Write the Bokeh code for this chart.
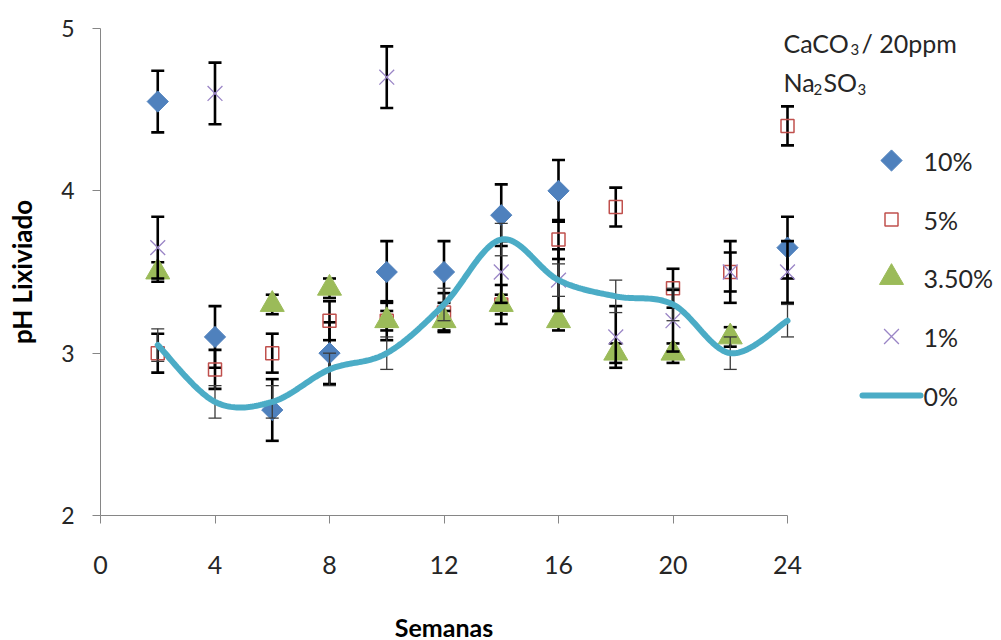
import numpy as np
from bokeh.plotting import figure
from bokeh.models import Label, FixedTicker, ColumnDataSource
from bokeh.core.properties import value
from bokeh.embed import file_html
from bokeh.resources import INLINE

# Weeks of leaching and pH of the leachate per Na2SO3 dose (NaN = not measured)
weeks = [2, 4, 6, 8, 10, 12, 14, 16, 18, 20, 22, 24]

ph_10 = [4.55, 3.10, 2.65, 3.00, 3.50, 3.50, 3.85, 4.00, np.nan, np.nan, np.nan, 3.65]
ph_5 = [3.00, 2.90, 3.00, 3.20, 3.20, 3.25, 3.30, 3.70, 3.90, 3.40, 3.50, 4.40]
ph_35 = [3.50, np.nan, 3.30, 3.40, 3.20, 3.20, 3.30, 3.20, 3.00, 3.00, 3.10, np.nan]
ph_1 = [3.65, 4.60, np.nan, np.nan, 4.70, np.nan, 3.50, 3.45, 3.10, 3.20, 3.50, 3.50]
ph_0 = [3.05, 2.70, 2.70, 2.90, 3.00, 3.30, 3.70, 3.45, 3.35, 3.30, 3.00, 3.20]

# Standard deviation of each series
sd_10 = 0.19
sd_5 = 0.12
sd_35 = 0.06
sd_1 = 0.19
sd_0 = 0.10

series_labels = ["10%", "5%", "3.50%", "1%", "0%"]
x_ticks = [0, 4, 8, 12, 16, 20, 24]
y_ticks = [2, 3, 4, 5]

FONT = "Lato"
TEXT = "#262626"

# Canvas geometry (pixels): the axes span x 100..787 and y 28..515.
# The plotting area covers the whole canvas; the axes are pinned at
# week 0 / pH 2 so the key, the note and the axis titles live inside it.
W, H = 1001, 640
LEFT, AX_RIGHT, BOTTOM, AX_TOP = 100, 787, 515, 28
X_PER_PX = 24 / (AX_RIGHT - LEFT)
Y_PER_PX = 3 / (BOTTOM - AX_TOP)


def px_x(px):
    return (px - LEFT) * X_PER_PX


def px_y(py):
    return 2 + (BOTTOM - py) * Y_PER_PX


def smooth_curve(xs, ys, n=30):
    """Cubic Bezier through every point (Catmull-Rom tangents)."""
    x = np.asarray(xs, float)
    y = np.asarray(ys, float)
    px = np.concatenate([[x[0]], x, [x[-1]]])
    py = np.concatenate([[y[0]], y, [y[-1]]])
    t = np.linspace(0, 1, n)
    out_x, out_y = [], []
    for i in range(len(x) - 1):
        p0 = np.array([px[i], py[i]])
        p1 = np.array([px[i + 1], py[i + 1]])
        p2 = np.array([px[i + 2], py[i + 2]])
        p3 = np.array([px[i + 3], py[i + 3]])
        c1 = p1 + (p2 - p0) / 6.0
        c2 = p2 - (p3 - p1) / 6.0
        b = (((1 - t) ** 3)[:, None] * p1 + (3 * (1 - t) ** 2 * t)[:, None] * c1
             + (3 * (1 - t) * t ** 2)[:, None] * c2 + (t ** 3)[:, None] * p2)
        if i > 0:
            b = b[1:]
        out_x.extend(b[:, 0])
        out_y.extend(b[:, 1])
    return out_x, out_y


p = figure(width=W, height=H, output_backend="svg", toolbar_location=None,
           x_range=(px_x(0), px_x(W)), y_range=(px_y(H), px_y(0)),
           min_border=0)
p.background_fill_color = "white"
p.border_fill_color = "white"
p.outline_line_color = None
p.xgrid.grid_line_color = None
p.ygrid.grid_line_color = None

for ax in (p.xaxis[0], p.yaxis[0]):
    ax.axis_line_color = "#868686"
    ax.major_tick_line_color = "#868686"
    ax.minor_tick_line_color = None
    ax.major_tick_in = 0
    ax.major_tick_out = 8
    ax.major_label_text_font = FONT
    ax.major_label_text_color = TEXT

p.xaxis.fixed_location = 2
p.yaxis.fixed_location = 0
p.xaxis.bounds = (0, 24)
p.yaxis.bounds = (2, 5)
p.xaxis.ticker = FixedTicker(ticks=x_ticks)
p.yaxis.ticker = FixedTicker(ticks=y_ticks)
p.xaxis.major_label_text_font_size = "25px"
p.yaxis.major_label_text_font_size = "23px"
p.xaxis.major_label_standoff = 32
p.yaxis.major_label_standoff = 18

# Axis titles
p.add_layout(Label(x=px_x((LEFT + AX_RIGHT) / 2), y=px_y(626), text="Semanas",
                   text_font=FONT, text_font_size="25px", text_font_style="bold",
                   text_color="black", text_align="center", text_baseline="middle"))
p.add_layout(Label(x=px_x(21), y=px_y((AX_TOP + BOTTOM) / 2), text="pH Lixiviado",
                   angle=np.pi / 2, text_font=FONT, text_font_size="26px",
                   text_font_style="bold", text_color="black",
                   text_align="center", text_baseline="middle"))


def error_bars(xs, ys, sd, width, color):
    x = np.asarray(xs, float)
    y = np.asarray(ys, float)
    keep = ~np.isnan(y)
    x, y = x[keep], y[keep]
    src = ColumnDataSource(dict(x=x, lo=y - sd, hi=y + sd))
    p.segment(x0="x", y0="lo", x1="x", y1="hi", source=src,
              line_color=color, line_width=width)
    p.scatter(x="x", y="lo", source=src, marker="dash", size=13,
              line_color=color, line_width=width)
    p.scatter(x="x", y="hi", source=src, marker="dash", size=13,
              line_color=color, line_width=width)


def points(ys):
    y = np.asarray(ys, float)
    keep = ~np.isnan(y)
    return ColumnDataSource(dict(x=np.asarray(weeks, float)[keep], y=y[keep]))


STYLE_10 = dict(marker="square", angle=np.pi / 4, size=15,
                fill_color="#4F81BD", line_color="#4F81BD")
STYLE_5 = dict(marker="square", size=13, fill_color=None,
               line_color="#C0504D", line_width=1.5)
STYLE_35 = dict(marker="triangle", size=24, fill_color="#9BBB59", line_color="#9BBB59")
STYLE_1 = dict(marker="x", size=21, line_color="#9A85C6", line_width=1.3)
LINE_0 = dict(line_color="#4BACC6", line_width=6, line_cap="round")

# 10 %
error_bars(weeks, ph_10, sd_10, 2.6, "black")
p.scatter(x="x", y="y", source=points(ph_10), **STYLE_10)
# 5 %
error_bars(weeks, ph_5, sd_5, 2.6, "black")
p.scatter(x="x", y="y", source=points(ph_5), **STYLE_5)
# 3.5 %
error_bars(weeks, ph_35, sd_35, 2.6, "black")
p.scatter(x="x", y="y", source=points(ph_35), **STYLE_35)
# 1 %
error_bars(weeks, ph_1, sd_1, 2.6, "black")
p.scatter(x="x", y="y", source=points(ph_1), **STYLE_1)
# 0 % (smoothed line)
error_bars(weeks, ph_0, sd_0, 1.3, "#3a3a3a")
sx, sy = smooth_curve(weeks, ph_0)
p.line(sx, sy, **LINE_0)

# Key at the right: symbols centred at x=891 px, labels from x=923 px
key_rows = [160, 219, 277, 336, 395]
key_styles = [STYLE_10, STYLE_5, STYLE_35, STYLE_1]
for row, style in zip(key_rows[:4], key_styles):
    p.scatter(x=[px_x(891)], y=[px_y(row)], **style)
p.line(x=[px_x(862), px_x(920)], y=[px_y(key_rows[4])] * 2, **LINE_0)
p.text(x=[px_x(923)] * 5, y=[px_y(r) for r in key_rows], text=series_labels,
       text_font=value(FONT), text_font_size="25px", text_color=TEXT,
       text_baseline="middle", text_align="left")

# Treatment note: CaCO3 / 20ppm Na2SO3 (subscripts set as smaller text)
note = [
    ("CaCO", 783, 42, "25px"),
    ("3", 850, 49, "15px"),
    ("/ 20ppm", 861, 42, "25px"),
    ("Na", 783, 81, "25px"),
    ("2", 813, 89, "15px"),
    ("SO", 823, 81, "25px"),
    ("3", 857, 89, "15px"),
]
for txt, nx, ny, fs in note:
    p.add_layout(Label(x=px_x(nx), y=px_y(ny), text=txt, text_font=FONT,
                       text_font_size=fs, text_color=TEXT,
                       text_baseline="middle", text_align="left"))

open("out.html", "w").write(file_html(p, INLINE))
